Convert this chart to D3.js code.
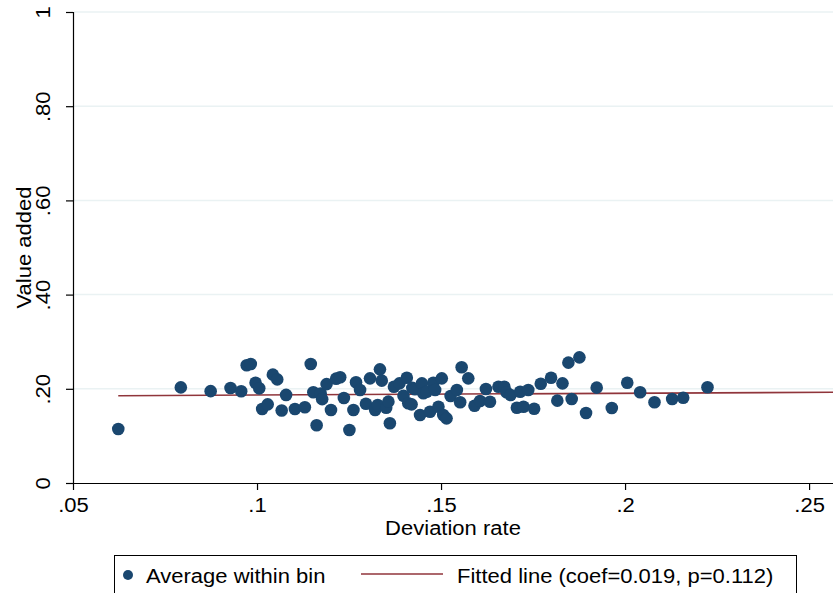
<!DOCTYPE html>
<html lang="en">
<head>
<meta charset="utf-8">
<title>Binned scatter</title>
<script src="https://d3js.org/d3.v7.min.js"></script>
<style>
body { margin: 0; background: #fff; }
svg { display: block; font-family: "Liberation Sans", Arial, sans-serif; }
</style>
</head>
<body>
<svg id="chart" width="833" height="593"></svg>
<script>
// bin averages
var binX = [0.0623, 0.0793, 0.0874, 0.0928, 0.0957, 0.0972, 0.0983, 0.0996, 0.1006, 0.1043,
  0.1055, 0.1014, 0.1029, 0.1067, 0.1079, 0.1103, 0.1130, 0.1146, 0.1153, 0.1173,
  0.1177, 0.1162, 0.1189, 0.1201, 0.1215, 0.1226, 0.1236, 0.1251, 0.1262, 0.1269,
  0.1280, 0.1296, 0.1307, 0.1321, 0.1328, 0.1334, 0.1339, 0.1351, 0.1357, 0.1361,
  0.1372, 0.1387, 0.1398, 0.1407, 0.1411, 0.1420, 0.1422, 0.1429, 0.1443, 0.1448,
  0.1452, 0.1461, 0.1470, 0.1479, 0.1484, 0.1493, 0.1502, 0.1506, 0.1515, 0.1526,
  0.1543, 0.1556, 0.1552, 0.1574, 0.1591, 0.1606, 0.1622, 0.1633, 0.1656, 0.1672,
  0.1678, 0.1689, 0.1706, 0.1715, 0.1724, 0.1737, 0.1753, 0.1771, 0.1799, 0.1816,
  0.1830, 0.1846, 0.1855, 0.1876, 0.1894, 0.1923, 0.1964, 0.2006, 0.2041, 0.2080,
  0.2128, 0.2158, 0.2224];
var binY = [0.1146, 0.2030, 0.1950, 0.2017, 0.1947, 0.2499, 0.2527, 0.2130, 0.2010, 0.2300,
  0.2200, 0.1570, 0.1670, 0.1540, 0.1870, 0.1570, 0.1607, 0.2527, 0.1926, 0.1900,
  0.1780, 0.1225, 0.2100, 0.1550, 0.2215, 0.2244, 0.1805, 0.1125, 0.1550, 0.2138,
  0.1975, 0.1684, 0.2222, 0.1550, 0.1656, 0.2413, 0.2173, 0.1599, 0.1727, 0.1267,
  0.2045, 0.2116, 0.1854, 0.2236, 0.1692, 0.1670, 0.2020, 0.1989, 0.1444, 0.2116,
  0.1904, 0.1938, 0.1514, 0.2130, 0.1975, 0.1620, 0.2222, 0.1444, 0.1373, 0.1847,
  0.1975, 0.2456, 0.1713, 0.2222, 0.1641, 0.1740, 0.1996, 0.1726, 0.2045, 0.2045,
  0.1926, 0.1868, 0.1599, 0.1938, 0.1620, 0.1975, 0.1578, 0.2108, 0.2236, 0.1748,
  0.2116, 0.2555, 0.1783, 0.2668, 0.1486, 0.2024, 0.1592, 0.2130, 0.1926, 0.1713,
  0.1783, 0.1811, 0.2032];

// fitted line end points
var fitX = [0.0623, 0.2565];
var fitY = [0.1854, 0.1926];

var xTicks = [0.05, 0.10, 0.15, 0.20, 0.25];
var xTickLabels = [".05", ".1", ".15", ".2", ".25"];
var yTicks = [0, 0.2, 0.4, 0.6, 0.8, 1];
var yTickLabels = ["0", ".20", ".40", ".60", ".80", "1"];

var legendLabels = ["Average within bin", "Fitted line (coef=0.019, p=0.112)"];

var navy = "#1a476f", maroon = "#90353b", grid = "#eaf2f3";
var fs = 20, stretch = 1.1;   // text in the source is a bit wide for its height

var svg = d3.select("#chart");

var x = d3.scaleLinear().domain([0.05, 0.2565]).range([73, 833]);
var y = d3.scaleLinear().domain([0, 1]).range([483, 12]);

// gridlines
svg.append("g").selectAll("line").data(yTicks.slice(1)).enter()
  .append("line")
  .attr("x1", 74).attr("x2", 833)
  .attr("y1", function(d){ return y(d); })
  .attr("y2", function(d){ return y(d); })
  .attr("stroke", grid).attr("stroke-width", 1.5);

// axes
var yAxis = d3.axisLeft(y).tickValues(yTicks).tickSize(7)
  .tickFormat(function(d, i){ return yTickLabels[i]; });
var gy = svg.append("g").attr("transform", "translate(73,0)").call(yAxis);
gy.select(".domain").attr("stroke", "#000").attr("stroke-width", 1.2);
gy.selectAll(".tick line").attr("stroke", "#000").attr("stroke-width", 1.2);
gy.selectAll(".tick text")
  .attr("font-size", fs).attr("fill", "#000")
  .attr("text-anchor", "middle")
  .attr("transform", "rotate(-90)")
  .attr("x", 0).attr("y", -23).attr("dy", null);

var xAxis = d3.axisBottom(x).tickValues(xTicks).tickSize(7).tickSizeOuter(0)
  .tickFormat(function(d, i){ return xTickLabels[i]; });
var gx = svg.append("g").attr("transform", "translate(0,483)").call(xAxis);
gx.select(".domain").attr("stroke", "#000").attr("stroke-width", 1.2);
gx.selectAll(".tick line").attr("stroke", "#000").attr("stroke-width", 1.2);
gx.selectAll(".tick text")
  .attr("font-size", fs).attr("fill", "#000")
  .attr("y", 29).attr("dy", null);

// axis titles
svg.append("text")
  .attr("transform", "translate(31," + ((y(0) + y(1)) / 2) + ") rotate(-90)")
  .attr("text-anchor", "middle")
  .attr("font-size", fs)
  .text("Value added");

svg.append("text")
  .attr("x", (x.range()[0] + x.range()[1]) / 2).attr("y", 535)
  .attr("text-anchor", "middle")
  .attr("font-size", fs)
  .text("Deviation rate");

// fitted line
svg.append("line")
  .attr("x1", x(fitX[0])).attr("y1", y(fitY[0]))
  .attr("x2", x(fitX[1])).attr("y2", y(fitY[1]))
  .attr("stroke", maroon).attr("stroke-width", 1.6);

// points
svg.append("g").selectAll("circle").data(binX).enter()
  .append("circle")
  .attr("cx", function(d){ return x(d); })
  .attr("cy", function(d, i){ return y(binY[i]); })
  .attr("r", 6.3)
  .attr("fill", navy);

// legend
var lg = svg.append("g");
lg.append("rect")
  .attr("x", 114.5).attr("y", 555.5)
  .attr("width", 682).attr("height", 60)
  .attr("fill", "#fff").attr("stroke", "#000").attr("stroke-width", 1);
lg.append("circle").attr("cx", 128).attr("cy", 575).attr("r", 5).attr("fill", navy);
lg.append("text").attr("x", 146).attr("y", 583).attr("font-size", fs).text(legendLabels[0]);
lg.append("line")
  .attr("x1", 361).attr("x2", 443).attr("y1", 574).attr("y2", 574)
  .attr("stroke", maroon).attr("stroke-width", 1.6);
lg.append("text").attr("x", 457).attr("y", 583).attr("font-size", fs).text(legendLabels[1]);

// widen every label a little
svg.selectAll("text").each(function(){
  var w = this.getComputedTextLength();
  this.setAttribute("textLength", w * stretch);
  this.setAttribute("lengthAdjust", "spacingAndGlyphs");
});
</script>
</body>
</html>
